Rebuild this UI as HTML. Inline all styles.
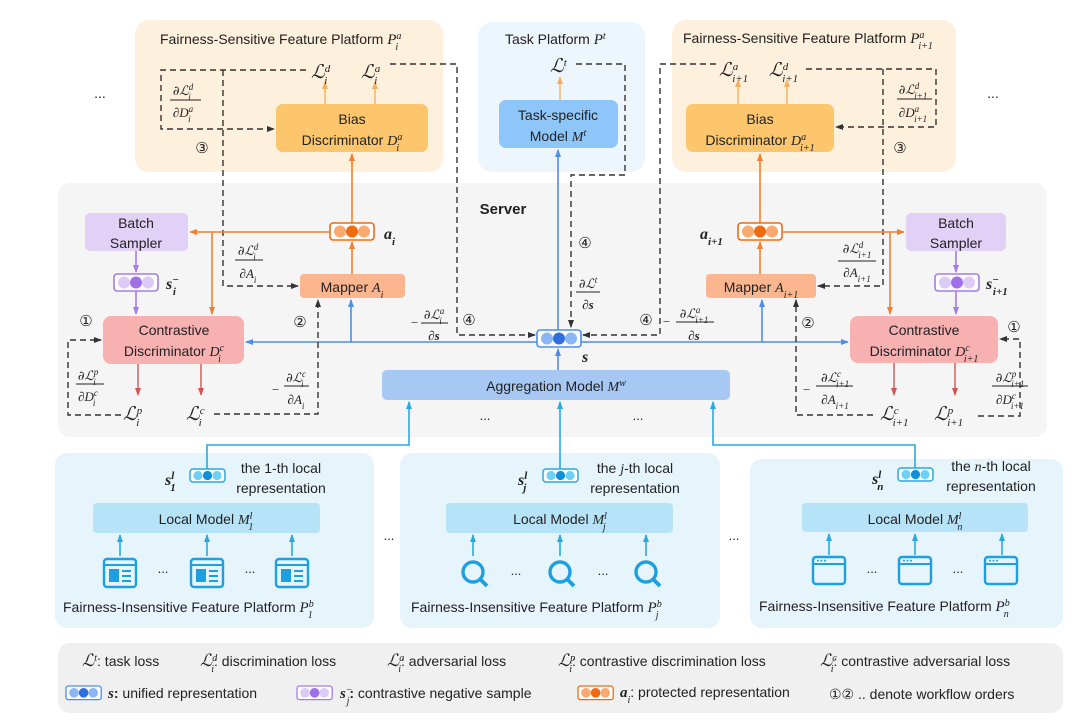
<!DOCTYPE html>
<html><head><meta charset="utf-8"><style>
body{margin:0;background:#fff}
svg{display:block}
text{font-family:"Liberation Sans",sans-serif;fill:#222}
.m{font-family:"Liberation Serif",serif;font-style:italic}
.L{font-family:"DejaVu Serif","Liberation Serif",serif;font-style:italic}
.b{font-weight:bold}
.c{text-anchor:middle}
.d{fill:none;stroke:#333;stroke-width:1.4;stroke-dasharray:6,4}
.o{fill:none;stroke:#f08030;stroke-width:1.6}
.bl{fill:none;stroke:#4a8ef0;stroke-width:1.6}
.cy{fill:none;stroke:#2aa8e0;stroke-width:1.6}
.p{fill:none;stroke:#a57be8;stroke-width:1.6}
.r{fill:none;stroke:#d25555;stroke-width:1.4}
.lo{fill:none;stroke:#f5b060;stroke-width:1.4}
</style></head><body>
<svg width="1080" height="722" viewBox="0 0 1080 722" xmlns="http://www.w3.org/2000/svg">
<defs>
<marker id="ak" markerWidth="8" markerHeight="8" refX="7" refY="4" orient="auto" markerUnits="userSpaceOnUse"><path d="M0,1 L8,4 L0,7z" fill="#333"/></marker>
<marker id="ao" markerWidth="8" markerHeight="8" refX="7" refY="4" orient="auto" markerUnits="userSpaceOnUse"><path d="M0,1 L8,4 L0,7z" fill="#f08030"/></marker>
<marker id="al" markerWidth="8" markerHeight="8" refX="7" refY="4" orient="auto" markerUnits="userSpaceOnUse"><path d="M0,1 L8,4 L0,7z" fill="#f5b060"/></marker>
<marker id="ab" markerWidth="8" markerHeight="8" refX="7" refY="4" orient="auto" markerUnits="userSpaceOnUse"><path d="M0,1 L8,4 L0,7z" fill="#4a8ef0"/></marker>
<marker id="ac" markerWidth="8" markerHeight="8" refX="7" refY="4" orient="auto" markerUnits="userSpaceOnUse"><path d="M0,1 L8,4 L0,7z" fill="#2aa8e0"/></marker>
<marker id="ap" markerWidth="8" markerHeight="8" refX="7" refY="4" orient="auto" markerUnits="userSpaceOnUse"><path d="M0,1 L8,4 L0,7z" fill="#a57be8"/></marker>
<marker id="ar" markerWidth="8" markerHeight="8" refX="7" refY="4" orient="auto" markerUnits="userSpaceOnUse"><path d="M0,1 L8,4 L0,7z" fill="#d25555"/></marker>
<g id="vb"><rect x="0" y="0" width="44" height="17" rx="3" fill="#fff" stroke="#4a8ef0" stroke-width="1.6"/><circle cx="10" cy="8.5" r="6" fill="#8ab6f5"/><circle cx="22" cy="8.5" r="6" fill="#2f6fe0"/><circle cx="34" cy="8.5" r="6" fill="#8ab6f5"/></g>
<g id="vo"><rect x="0" y="0" width="44" height="17" rx="3" fill="#fff" stroke="#f06a10" stroke-width="1.6"/><circle cx="10" cy="8.5" r="6" fill="#f9a870"/><circle cx="22" cy="8.5" r="6" fill="#f06a10"/><circle cx="34" cy="8.5" r="6" fill="#f9a870"/></g>
<g id="vp"><rect x="0" y="0" width="44" height="17" rx="3" fill="#fff" stroke="#a57be8" stroke-width="1.6"/><circle cx="10" cy="8.5" r="6" fill="#dccbf7"/><circle cx="22" cy="8.5" r="6" fill="#a070e8"/><circle cx="34" cy="8.5" r="6" fill="#dccbf7"/></g>
<g id="vc"><rect x="0" y="0" width="35" height="13" rx="3" fill="#fff" stroke="#2aa8e0" stroke-width="1.5"/><circle cx="8" cy="6.5" r="4.6" fill="#6fd0f5"/><circle cx="17.5" cy="6.5" r="4.6" fill="#0e8fd8"/><circle cx="27" cy="6.5" r="4.6" fill="#6fd0f5"/></g>
<g id="idoc"><rect x="0" y="0" width="32" height="28" rx="3" fill="none" stroke="#1e9fe0" stroke-width="2.4"/><line x1="0" y1="6" x2="32" y2="6" stroke="#1e9fe0" stroke-width="2"/><rect x="5" y="10" width="10" height="13" fill="#1e9fe0"/><line x1="18" y1="12" x2="27" y2="12" stroke="#1e9fe0" stroke-width="2"/><line x1="18" y1="17" x2="27" y2="17" stroke="#1e9fe0" stroke-width="2"/><line x1="18" y1="22" x2="27" y2="22" stroke="#1e9fe0" stroke-width="2"/></g>
<g id="imag"><circle cx="12" cy="12" r="10" fill="none" stroke="#1e9fe0" stroke-width="3.4"/><line x1="19" y1="19" x2="26" y2="26" stroke="#1e9fe0" stroke-width="3.8"/></g>
<g id="iwin"><rect x="0" y="0" width="32" height="27" rx="3" fill="none" stroke="#1e9fe0" stroke-width="2.4"/><line x1="0" y1="7" x2="32" y2="7" stroke="#1e9fe0" stroke-width="2"/><circle cx="5" cy="3.6" r="1" fill="#1e9fe0"/><circle cx="8.5" cy="3.6" r="1" fill="#1e9fe0"/><circle cx="12" cy="3.6" r="1" fill="#1e9fe0"/></g>
</defs>

<rect x="135" y="20" width="308" height="152" rx="14" fill="#fdf0dc"/>
<rect x="478" y="22" width="167" height="150" rx="14" fill="#edf5fd"/>
<rect x="672" y="20" width="284" height="152" rx="14" fill="#fdf0dc"/>
<rect x="58" y="183" width="989" height="254" rx="12" fill="#f5f5f5"/>
<rect x="55" y="453" width="319" height="175" rx="12" fill="#e6f4fc"/>
<rect x="400" y="453" width="320" height="175" rx="12" fill="#e6f4fc"/>
<rect x="750" y="459" width="313" height="169" rx="12" fill="#e6f4fc"/>
<rect x="58" y="643" width="1005" height="70" rx="12" fill="#f0f0f0"/>

<text x="160" y="44" font-size="14">Fairness-Sensitive Feature Platform <tspan class="m" font-size="15">P</tspan><tspan class="m" font-size="10" baseline-shift="super">a</tspan><tspan class="m" font-size="10" dx="-6" baseline-shift="sub">i</tspan></text>
<text x="505" y="44" font-size="14">Task Platform <tspan class="m" font-size="15">P</tspan><tspan class="m" font-size="10" baseline-shift="super">t</tspan></text>
<text x="683" y="43" font-size="14">Fairness-Sensitive Feature Platform <tspan class="m" font-size="15">P</tspan><tspan class="m" font-size="10" baseline-shift="super">a</tspan><tspan class="m" font-size="10" dx="-6" baseline-shift="sub">i+1</tspan></text>
<text x="100" y="98" font-size="14" class="c">...</text>
<text x="993" y="98" font-size="14" class="c">...</text>
<text x="503" y="214" font-size="15" class="b c">Server</text>

<rect x="276" y="104" width="152" height="48" rx="7" fill="#fdc66c"/>
<text x="352" y="124" font-size="14" class="c">Bias</text>
<text x="352" y="145" font-size="14" class="c">Discriminator <tspan class="m">D</tspan><tspan class="m" font-size="10" baseline-shift="super">a</tspan><tspan class="m" font-size="10" dx="-6" baseline-shift="sub">i</tspan></text>
<rect x="499" y="100" width="119" height="48" rx="7" fill="#8ec6fa"/>
<text x="558" y="120" font-size="14" class="c">Task-specific</text>
<text x="558" y="141" font-size="14" class="c">Model <tspan class="m">M</tspan><tspan class="m" font-size="10" baseline-shift="super">t</tspan></text>
<rect x="686" y="104" width="148" height="48" rx="7" fill="#fdc66c"/>
<text x="760" y="124" font-size="14" class="c">Bias</text>
<text x="760" y="145" font-size="14" class="c">Discriminator <tspan class="m">D</tspan><tspan class="m" font-size="10" baseline-shift="super">a</tspan><tspan class="m" font-size="10" dx="-6" baseline-shift="sub">i+1</tspan></text>

<rect x="85" y="213" width="103" height="38" rx="5" fill="#e2d1f7"/>
<text x="136" y="228" font-size="14" class="c">Batch</text>
<text x="136" y="248" font-size="14" class="c">Sampler</text>
<rect x="906" y="213" width="100" height="38" rx="5" fill="#e2d1f7"/>
<text x="956" y="228" font-size="14" class="c">Batch</text>
<text x="956" y="248" font-size="14" class="c">Sampler</text>

<rect x="103" y="316" width="141" height="48" rx="8" fill="#f8b1b1"/>
<text x="174" y="335" font-size="14" class="c">Contrastive</text>
<text x="174" y="356" font-size="14" class="c">Discriminator <tspan class="m">D</tspan><tspan class="m" font-size="10" baseline-shift="super">c</tspan><tspan class="m" font-size="10" dx="-6" baseline-shift="sub">i</tspan></text>
<rect x="850" y="316" width="148" height="47" rx="8" fill="#f8b1b1"/>
<text x="924" y="335" font-size="14" class="c">Contrastive</text>
<text x="924" y="356" font-size="14" class="c">Discriminator <tspan class="m">D</tspan><tspan class="m" font-size="10" baseline-shift="super">c</tspan><tspan class="m" font-size="10" dx="-6" baseline-shift="sub">i+1</tspan></text>

<rect x="300" y="274" width="105" height="24" rx="4" fill="#fbb690"/>
<text x="352" y="292" font-size="14" class="c">Mapper <tspan class="m">A</tspan><tspan class="m" font-size="10" baseline-shift="sub">i</tspan></text>
<rect x="706" y="274" width="110" height="24" rx="4" fill="#fbb690"/>
<text x="761" y="292" font-size="14" class="c">Mapper <tspan class="m">A</tspan><tspan class="m" font-size="10" baseline-shift="sub">i+1</tspan></text>

<rect x="382" y="370" width="348" height="30" rx="5" fill="#a6c8f3"/>
<text x="556" y="391" font-size="14" class="c">Aggregation Model <tspan class="m">M</tspan><tspan class="m" font-size="10" baseline-shift="super">w</tspan></text>
<text x="485" y="420" font-size="13" class="c">...</text>
<text x="638" y="420" font-size="13" class="c">...</text>

<use href="#vo" x="330" y="223"/>
<text x="384" y="239" font-size="16" class="m b">a<tspan font-size="11" baseline-shift="sub">i</tspan></text>
<use href="#vo" x="738" y="223"/>
<text x="700" y="239" font-size="16" class="m b">a<tspan font-size="11" baseline-shift="sub">i+1</tspan></text>
<use href="#vp" x="114" y="274"/>
<text x="166" y="289" font-size="16" class="m b">s<tspan font-size="11" baseline-shift="super">−</tspan><tspan font-size="11" dx="-6" baseline-shift="sub">i</tspan></text>
<use href="#vp" x="935" y="274"/>
<text x="986" y="289" font-size="16" class="m b">s<tspan font-size="11" baseline-shift="super">−</tspan><tspan font-size="11" dx="-6" baseline-shift="sub">i+1</tspan></text>
<use href="#vb" x="537" y="330"/>
<text x="582" y="362" font-size="16" class="m b">s</text>

<line x1="325" y1="104" x2="325" y2="82" class="lo" marker-end="url(#al)"/>
<line x1="375" y1="104" x2="375" y2="82" class="lo" marker-end="url(#al)"/>
<text x="311" y="78" font-size="19" class="L">ℒ<tspan class="m" font-size="11" baseline-shift="super">d</tspan><tspan class="m" font-size="11" dx="-6" baseline-shift="sub">i</tspan></text>
<text x="361" y="78" font-size="19" class="L">ℒ<tspan class="m" font-size="11" baseline-shift="super">a</tspan><tspan class="m" font-size="11" dx="-6" baseline-shift="sub">i</tspan></text>
<polyline points="306,70 161,70 161,129 274,129" class="d" marker-end="url(#ak)"/>
<polyline points="223,70 223,286 298,286" class="d" marker-end="url(#ak)"/>
<polyline points="390,64 457,64 457,335 535,335" class="d" marker-end="url(#ak)"/>
<line x1="352" y1="274" x2="352" y2="242" class="o" marker-end="url(#ao)"/>
<line x1="352" y1="223" x2="352" y2="154" class="o" marker-end="url(#ao)"/>
<line x1="330" y1="232" x2="190" y2="232" class="o" marker-end="url(#ao)"/>
<line x1="212" y1="232" x2="212" y2="314" class="o" marker-end="url(#ao)"/>
<line x1="136" y1="251" x2="136" y2="272" class="p" marker-end="url(#ap)"/>
<line x1="136" y1="291" x2="136" y2="314" class="p" marker-end="url(#ap)"/>
<line x1="537" y1="342" x2="246" y2="342" class="bl" marker-end="url(#ab)"/>
<line x1="351" y1="342" x2="351" y2="300" class="bl" marker-end="url(#ab)"/>
<line x1="138" y1="364" x2="138" y2="395" class="r" marker-end="url(#ar)"/>
<line x1="201" y1="364" x2="201" y2="395" class="r" marker-end="url(#ar)"/>
<text x="123" y="420" font-size="19" class="L">ℒ<tspan class="m" font-size="11" baseline-shift="super">p</tspan><tspan class="m" font-size="11" dx="-6" baseline-shift="sub">i</tspan></text>
<text x="186" y="420" font-size="19" class="L">ℒ<tspan class="m" font-size="11" baseline-shift="super">c</tspan><tspan class="m" font-size="11" dx="-6" baseline-shift="sub">i</tspan></text>
<polyline points="121,415 68,415 68,340 101,340" class="d" marker-end="url(#ak)"/>
<polyline points="214,414 318,414 318,300" class="d" marker-end="url(#ak)"/>
<g font-size="13">
<text x="183" y="95" class="c m"><tspan class="L">∂ℒ</tspan><tspan font-size="9" baseline-shift="super">d</tspan><tspan font-size="9" dx="-5" baseline-shift="sub">i</tspan></text>
<line x1="170" y1="100" x2="201" y2="100" stroke="#222"/>
<text x="183" y="117" class="c m">∂D<tspan font-size="9" baseline-shift="super">a</tspan><tspan font-size="9" dx="-5" baseline-shift="sub">i</tspan></text>
<text x="248" y="255" class="c m"><tspan class="L">∂ℒ</tspan><tspan font-size="9" baseline-shift="super">d</tspan><tspan font-size="9" dx="-5" baseline-shift="sub">i</tspan></text>
<line x1="235" y1="260" x2="263" y2="260" stroke="#222"/>
<text x="248" y="278" class="c m">∂A<tspan font-size="9" baseline-shift="sub">i</tspan></text>
<text x="434" y="319" class="c m"><tspan class="L">∂ℒ</tspan><tspan font-size="9" baseline-shift="super">a</tspan><tspan font-size="9" dx="-5" baseline-shift="sub">i</tspan></text>
<line x1="421" y1="323" x2="448" y2="323" stroke="#222"/>
<text x="434" y="340" class="c m b">∂s</text>
<text x="410" y="327" class="m">−</text>
<text x="88" y="380" class="c m"><tspan class="L">∂ℒ</tspan><tspan font-size="9" baseline-shift="super">p</tspan><tspan font-size="9" dx="-5" baseline-shift="sub">i</tspan></text>
<line x1="76" y1="384" x2="104" y2="384" stroke="#222"/>
<text x="88" y="401" class="c m">∂D<tspan font-size="9" baseline-shift="super">c</tspan><tspan font-size="9" dx="-5" baseline-shift="sub">i</tspan></text>
<text x="296" y="382" class="c m"><tspan class="L">∂ℒ</tspan><tspan font-size="9" baseline-shift="super">c</tspan><tspan font-size="9" dx="-5" baseline-shift="sub">i</tspan></text>
<line x1="284" y1="386" x2="309" y2="386" stroke="#222"/>
<text x="296" y="404" class="c m">∂A<tspan font-size="9" baseline-shift="sub">i</tspan></text>
<text x="271" y="394" class="m">−</text>
</g>
<g font-size="15">
<text x="202" y="153" class="c">③</text>
<text x="86" y="326" class="c">①</text>
<text x="300" y="327" class="c">②</text>
<text x="469" y="325" class="c">④</text>
</g>

<line x1="558" y1="330" x2="558" y2="150" class="bl" marker-end="url(#ab)"/>
<line x1="558" y1="370" x2="558" y2="349" class="bl" marker-end="url(#ab)"/>
<line x1="560" y1="100" x2="560" y2="77" class="lo" marker-end="url(#al)"/>
<text x="550" y="72" font-size="19" class="L">ℒ<tspan class="m" font-size="11" baseline-shift="super">t</tspan></text>
<polyline points="576,64 625,64 625,175 571,175 571,327" class="d" marker-end="url(#ak)"/>
<polyline points="716,64 660,64 660,335 583,335" class="d" marker-end="url(#ak)"/>
<text x="585" y="248" font-size="15" class="c">④</text>
<text x="646" y="325" font-size="15" class="c">④</text>
<g font-size="13">
<text x="588" y="288" class="c m"><tspan class="L">∂ℒ</tspan><tspan font-size="9" baseline-shift="super">t</tspan></text>
<line x1="576" y1="292" x2="600" y2="292" stroke="#222"/>
<text x="588" y="309" class="c m b">∂s</text>
<text x="694" y="318" class="c m"><tspan class="L">∂ℒ</tspan><tspan font-size="9" baseline-shift="super">a</tspan><tspan font-size="9" dx="-5" baseline-shift="sub">i+1</tspan></text>
<line x1="676" y1="322" x2="714" y2="322" stroke="#222"/>
<text x="694" y="340" class="c m b">∂s</text>
<text x="662" y="326" class="m">−</text>
</g>

<line x1="738" y1="104" x2="738" y2="80" class="lo" marker-end="url(#al)"/>
<line x1="787" y1="104" x2="787" y2="80" class="lo" marker-end="url(#al)"/>
<text x="719" y="76" font-size="19" class="L">ℒ<tspan class="m" font-size="11" baseline-shift="super">a</tspan><tspan class="m" font-size="11" dx="-6" baseline-shift="sub">i+1</tspan></text>
<text x="769" y="76" font-size="19" class="L">ℒ<tspan class="m" font-size="11" baseline-shift="super">d</tspan><tspan class="m" font-size="11" dx="-6" baseline-shift="sub">i+1</tspan></text>
<polyline points="806,69 936,69 936,127 836,127" class="d" marker-end="url(#ak)"/>
<polyline points="883,69 883,286 818,286" class="d" marker-end="url(#ak)"/>
<line x1="760" y1="274" x2="760" y2="242" class="o" marker-end="url(#ao)"/>
<line x1="760" y1="223" x2="760" y2="154" class="o" marker-end="url(#ao)"/>
<line x1="782" y1="232" x2="904" y2="232" class="o" marker-end="url(#ao)"/>
<line x1="890" y1="232" x2="890" y2="314" class="o" marker-end="url(#ao)"/>
<line x1="956" y1="251" x2="956" y2="272" class="p" marker-end="url(#ap)"/>
<line x1="956" y1="291" x2="956" y2="314" class="p" marker-end="url(#ap)"/>
<line x1="581" y1="342" x2="848" y2="342" class="bl" marker-end="url(#ab)"/>
<line x1="762" y1="342" x2="762" y2="300" class="bl" marker-end="url(#ab)"/>
<line x1="894" y1="363" x2="894" y2="395" class="r" marker-end="url(#ar)"/>
<line x1="955" y1="363" x2="955" y2="395" class="r" marker-end="url(#ar)"/>
<text x="880" y="420" font-size="19" class="L">ℒ<tspan class="m" font-size="11" baseline-shift="super">c</tspan><tspan class="m" font-size="11" dx="-6" baseline-shift="sub">i+1</tspan></text>
<text x="934" y="420" font-size="19" class="L">ℒ<tspan class="m" font-size="11" baseline-shift="super">p</tspan><tspan class="m" font-size="11" dx="-6" baseline-shift="sub">i+1</tspan></text>
<polyline points="873,415 796,415 796,300" class="d" marker-end="url(#ak)"/>
<polyline points="978,416 1020,416 1020,339 1000,339" class="d" marker-end="url(#ak)"/>
<g font-size="13">
<text x="913" y="94" class="c m"><tspan class="L">∂ℒ</tspan><tspan font-size="9" baseline-shift="super">d</tspan><tspan font-size="9" dx="-5" baseline-shift="sub">i+1</tspan></text>
<line x1="897" y1="99" x2="932" y2="99" stroke="#222"/>
<text x="913" y="117" class="c m">∂D<tspan font-size="9" baseline-shift="super">a</tspan><tspan font-size="9" dx="-5" baseline-shift="sub">i+1</tspan></text>
<text x="857" y="253" class="c m"><tspan class="L">∂ℒ</tspan><tspan font-size="9" baseline-shift="super">d</tspan><tspan font-size="9" dx="-5" baseline-shift="sub">i+1</tspan></text>
<line x1="838" y1="261" x2="876" y2="261" stroke="#222"/>
<text x="857" y="277" class="c m">∂A<tspan font-size="9" baseline-shift="sub">i+1</tspan></text>
<text x="835" y="382" class="c m"><tspan class="L">∂ℒ</tspan><tspan font-size="9" baseline-shift="super">c</tspan><tspan font-size="9" dx="-5" baseline-shift="sub">i+1</tspan></text>
<line x1="816" y1="386" x2="853" y2="386" stroke="#222"/>
<text x="835" y="404" class="c m">∂A<tspan font-size="9" baseline-shift="sub">i+1</tspan></text>
<text x="802" y="394" class="m">−</text>
<text x="1010" y="382" class="c m"><tspan class="L">∂ℒ</tspan><tspan font-size="9" baseline-shift="super">p</tspan><tspan font-size="9" dx="-5" baseline-shift="sub">i+1</tspan></text>
<line x1="992" y1="386" x2="1028" y2="386" stroke="#222"/>
<text x="1010" y="404" class="c m">∂D<tspan font-size="9" baseline-shift="super">c</tspan><tspan font-size="9" dx="-5" baseline-shift="sub">i+1</tspan></text>
</g>
<g font-size="15">
<text x="900" y="153" class="c">③</text>
<text x="1014" y="332" class="c">①</text>
<text x="808" y="328" class="c">②</text>
</g>

<polyline points="207,469 207,445 409,445 409,402" class="cy" marker-end="url(#ac)"/>
<line x1="560" y1="469" x2="560" y2="402" class="cy" marker-end="url(#ac)"/>
<polyline points="915,469 915,445 713,445 713,402" class="cy" marker-end="url(#ac)"/>

<use href="#vc" x="190" y="469"/>
<text x="165" y="485" font-size="16" class="m b">s<tspan font-size="11" baseline-shift="super">l</tspan><tspan font-size="11" dx="-4" baseline-shift="sub">1</tspan></text>
<text x="281" y="473" font-size="14" class="c">the 1-th local</text>
<text x="281" y="493" font-size="14" class="c">representation</text>
<rect x="93" y="503" width="227" height="30" rx="4" fill="#b6e3f7"/>
<text x="206" y="524" font-size="14" class="c">Local Model  <tspan class="m">M</tspan><tspan class="m" font-size="10" baseline-shift="super">l</tspan><tspan class="m" font-size="10" dx="-4" baseline-shift="sub">1</tspan></text>
<line x1="120" y1="556" x2="120" y2="535" class="cy" marker-end="url(#ac)"/>
<line x1="207" y1="556" x2="207" y2="535" class="cy" marker-end="url(#ac)"/>
<line x1="292" y1="556" x2="292" y2="535" class="cy" marker-end="url(#ac)"/>
<use href="#idoc" x="104" y="559"/><use href="#idoc" x="191" y="559"/><use href="#idoc" x="276" y="559"/>
<text x="163" y="573" font-size="13" class="c">...</text><text x="250" y="573" font-size="13" class="c">...</text>
<text x="63" y="612" font-size="14">Fairness-Insensitive Feature Platform <tspan class="m" font-size="15">P</tspan><tspan class="m" font-size="10" baseline-shift="super">b</tspan><tspan class="m" font-size="10" dx="-6" baseline-shift="sub">1</tspan></text>
<text x="389" y="540" font-size="13" class="c">...</text>

<use href="#vc" x="543" y="469"/>
<text x="518" y="485" font-size="16" class="m b">s<tspan font-size="11" baseline-shift="super">l</tspan><tspan font-size="11" dx="-4" baseline-shift="sub">j</tspan></text>
<text x="635" y="473" font-size="14" class="c">the <tspan class="m">j</tspan>-th local</text>
<text x="635" y="493" font-size="14" class="c">representation</text>
<rect x="446" y="503" width="227" height="30" rx="4" fill="#b6e3f7"/>
<text x="560" y="524" font-size="14" class="c">Local Model  <tspan class="m">M</tspan><tspan class="m" font-size="10" baseline-shift="super">l</tspan><tspan class="m" font-size="10" dx="-4" baseline-shift="sub">j</tspan></text>
<line x1="473" y1="556" x2="473" y2="535" class="cy" marker-end="url(#ac)"/>
<line x1="560" y1="556" x2="560" y2="535" class="cy" marker-end="url(#ac)"/>
<line x1="646" y1="556" x2="646" y2="535" class="cy" marker-end="url(#ac)"/>
<use href="#imag" x="461" y="560"/><use href="#imag" x="548" y="560"/><use href="#imag" x="634" y="560"/>
<text x="516" y="575" font-size="13" class="c">...</text><text x="603" y="575" font-size="13" class="c">...</text>
<text x="411" y="612" font-size="14">Fairness-Insensitive Feature Platform <tspan class="m" font-size="15">P</tspan><tspan class="m" font-size="10" baseline-shift="super">b</tspan><tspan class="m" font-size="10" dx="-6" baseline-shift="sub">j</tspan></text>
<text x="734" y="540" font-size="13" class="c">...</text>

<use href="#vc" x="898" y="468"/>
<text x="872" y="484" font-size="16" class="m b">s<tspan font-size="11" baseline-shift="super">l</tspan><tspan font-size="11" dx="-4" baseline-shift="sub">n</tspan></text>
<text x="991" y="471" font-size="14" class="c">the <tspan class="m">n</tspan>-th local</text>
<text x="991" y="491" font-size="14" class="c">representation</text>
<rect x="802" y="503" width="226" height="29" rx="4" fill="#b6e3f7"/>
<text x="915" y="524" font-size="14" class="c">Local Model  <tspan class="m">M</tspan><tspan class="m" font-size="10" baseline-shift="super">l</tspan><tspan class="m" font-size="10" dx="-4" baseline-shift="sub">n</tspan></text>
<line x1="829" y1="555" x2="829" y2="534" class="cy" marker-end="url(#ac)"/>
<line x1="915" y1="555" x2="915" y2="534" class="cy" marker-end="url(#ac)"/>
<line x1="1002" y1="555" x2="1002" y2="534" class="cy" marker-end="url(#ac)"/>
<use href="#iwin" x="813" y="557"/><use href="#iwin" x="899" y="557"/><use href="#iwin" x="985" y="557"/>
<text x="872" y="573" font-size="13" class="c">...</text><text x="958" y="573" font-size="13" class="c">...</text>
<text x="759" y="611" font-size="14">Fairness-Insensitive Feature Platform <tspan class="m" font-size="15">P</tspan><tspan class="m" font-size="10" baseline-shift="super">b</tspan><tspan class="m" font-size="10" dx="-6" baseline-shift="sub">n</tspan></text>

<g font-size="14">
<text x="82" y="666"><tspan class="L" font-size="17">ℒ</tspan><tspan class="m" font-size="10" baseline-shift="super">t</tspan>: task loss</text>
<text x="200" y="666"><tspan class="L" font-size="17">ℒ</tspan><tspan class="m" font-size="10" baseline-shift="super">d</tspan><tspan class="m" font-size="10" dx="-6" baseline-shift="sub">i</tspan>: discrimination loss</text>
<text x="387" y="666"><tspan class="L" font-size="17">ℒ</tspan><tspan class="m" font-size="10" baseline-shift="super">a</tspan><tspan class="m" font-size="10" dx="-6" baseline-shift="sub">i</tspan>: adversarial loss</text>
<text x="558" y="666"><tspan class="L" font-size="17">ℒ</tspan><tspan class="m" font-size="10" baseline-shift="super">p</tspan><tspan class="m" font-size="10" dx="-6" baseline-shift="sub">i</tspan>: contrastive discrimination loss</text>
<text x="820" y="666"><tspan class="L" font-size="17">ℒ</tspan><tspan class="m" font-size="10" baseline-shift="super">c</tspan><tspan class="m" font-size="10" dx="-6" baseline-shift="sub">i</tspan>: contrastive adversarial loss</text>
<use href="#vb" transform="translate(66,686) scale(0.8)"/>
<text x="108" y="698"><tspan class="m b" font-size="15">s</tspan><tspan class="b">:</tspan> unified representation</text>
<use href="#vp" transform="translate(297,686) scale(0.8)"/>
<text x="340" y="698"><tspan class="m b" font-size="15">s</tspan><tspan class="m" font-size="10" baseline-shift="super">−</tspan><tspan class="m" font-size="10" dx="-6" baseline-shift="sub">j</tspan><tspan class="b">:</tspan> contrastive negative sample</text>
<use href="#vo" transform="translate(578,686) scale(0.8)"/>
<text x="620" y="697"><tspan class="m b" font-size="15">a</tspan><tspan class="m" font-size="10" baseline-shift="sub">i</tspan>: protected representation</text>
<text x="829" y="699">①② .. denote workflow orders</text>
</g>
</svg>
</body></html>
